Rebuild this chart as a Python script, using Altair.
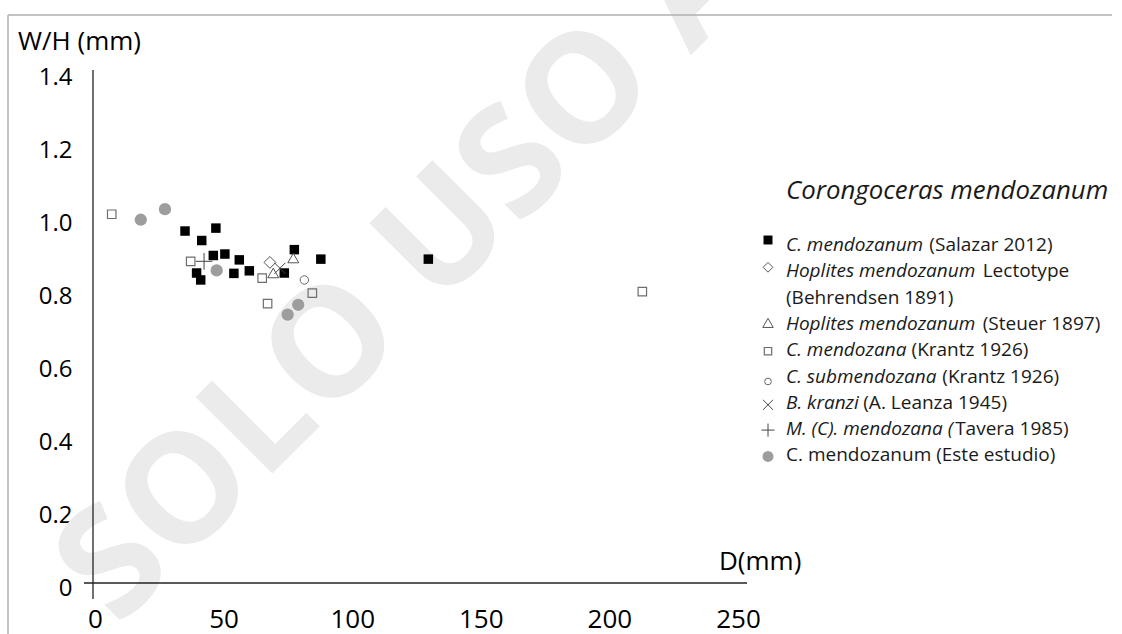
import altair as alt
import pandas as pd

# ---------------- data ----------------
salazar_D  = [35.0, 47.0, 41.5, 46.0, 50.5, 56.1, 60.0, 54.0, 39.5, 41.1, 77.5, 73.6, 87.8, 129.6]
salazar_WH = [0.978, 0.986, 0.952, 0.911, 0.915, 0.899, 0.869, 0.862, 0.863, 0.844, 0.927, 0.863, 0.901, 0.901]
krantz_D   = [6.5, 37.2, 65.0, 67.1, 84.5, 212.8]
krantz_WH  = [1.024, 0.895, 0.849, 0.779, 0.808, 0.812]
este_D     = [17.8, 27.2, 47.3, 79.0, 74.9]
este_WH    = [1.009, 1.038, 0.870, 0.776, 0.749]
lecto_D    = [68.0]
lecto_WH   = [0.892]
steuer_D   = [77.1, 69.3]
steuer_WH  = [0.904, 0.863]
leanza_D   = [71.9]
leanza_WH  = [0.876]
tavera_D   = [42.4]
tavera_WH  = [0.895]
submend_D  = [81.4]
submend_WH = [0.844]

x_ticks = [0, 50, 100, 150, 200, 250]
y_ticks = [0, 0.2, 0.4, 0.6, 0.8, 1.0, 1.2, 1.4]

y_title = "W/H (mm)"
x_title = "D(mm)"
legend_title = "Corongoceras mendozanum"
legend_italic = ["C. mendozanum", "Hoplites mendozanum", "", "Hoplites mendozanum",
                 "C. mendozana", "C. submendozana", "B. kranzi", "M. (C). mendozana (", ""]
legend_regular = ["(Salazar 2012)", "Lectotype", "(Behrendsen 1891)", "(Steuer 1897)",
                  "(Krantz 1926)", "(Krantz 1926)", "(A. Leanza 1945)", "Tavera 1985)",
                  "C. mendozanum (Este estudio)"]
watermark = "SOLO USO ACADÉMICO"

# ---------------- layout ----------------
W, H = 1122, 634
FONT = "Open Sans"
xscale = alt.Scale(domain=[0, 250], range=[95, 738], nice=False, zero=False)
yscale = alt.Scale(domain=[0, 1.4], range=[588, 77], nice=False, zero=False)
ROW0, ROW_H = 245, 26.3
leg_y = alt.Scale(domain=[0, 8], range=[ROW0, ROW0 + 8 * ROW_H], nice=False, zero=False)
pix_x = alt.Scale(domain=[0, W], range=[0, W], nice=False, zero=False)
LEG_TX, LEG_MX, LEG_FS = 786, 768, 19

# Open Sans advance widths (units per 2048 em), used to place the upright part after the italic part
ADV = {' ': 532, '(': 608, ')': 608, '.': 545, 'A': 1296, 'B': 1327, 'C': 1292, 'D': 1493,
       'E': 1118, 'H': 1511, 'K': 1221, 'L': 1124, 'M': 1849, 'S': 1147, 'T': 1155,
       'a': 1139, 'b': 1255, 'c': 975, 'd': 1255, 'e': 1149, 'g': 1122, 'h': 1257, 'i': 518,
       'k': 1075, 'l': 518, 'm': 1905, 'n': 1257, 'o': 1237, 'p': 1255, 'r': 836, 's': 977,
       't': 723, 'u': 1257, 'v': 1026, 'y': 1026, 'z': 977}


def text_w(s, size, italic=False):
    w = sum(ADV.get(c, 1171) for c in s) / 2048 * size
    return w * (0.95 if italic else 1.0)


def one(**kw):
    return pd.DataFrame({k: [v] for k, v in kw.items()} or {"a": [0]})


def label(text, x, y, size, italic=False, align="left", baseline="alphabetic",
          angle=0, color="#000000", weight="normal"):
    mk = dict(align=align, baseline=baseline, font=FONT, fontSize=size, color=color,
              fontWeight=weight, fontStyle="italic" if italic else "normal")
    if angle:
        mk["angle"] = angle
    return alt.Chart(one(t=text)).mark_text(**mk).encode(
        x=alt.value(x), y=alt.value(y), text="t:N")


def hrule(x1, x2, y, color, sw):
    return alt.Chart(one(a=0)).mark_rule(color=color, strokeWidth=sw).encode(
        x=alt.value(x1), x2=alt.value(x2), y=alt.value(y))


def vrule(x, y1, y2, color, sw):
    return alt.Chart(one(a=0)).mark_rule(color=color, strokeWidth=sw).encode(
        x=alt.value(x), y=alt.value(y1), y2=alt.value(y2))


PLUS = "M-1,0L1,0M0,-1L0,1"
CROSS = "M-1,-1L1,1M-1,1L1,-1"

# name, D, WH, shape, size, filled, color, strokeWidth, legend row, legend y offset(px), legend size
series = [
    ("krantz", krantz_D, krantz_WH, "square", 72, False, "#6e6e6e", 1.2, 4, 1, 55),
    ("salazar", salazar_D, salazar_WH, "square", 90, True, "#000000", 0, 0, -5, 80),
    ("este", este_D, este_WH, "circle", 150, True, "#9d9d9d", 0, 8, 1, 120),
    ("lecto", lecto_D, lecto_WH, "diamond", 140, False, "#555555", 1.0, 1, -4, 95),
    ("steuer", steuer_D, steuer_WH, "triangle-up", 120, False, "#555555", 1.0, 3, -1, 110),
    ("leanza", leanza_D, leanza_WH, CROSS, 120, False, "#444444", 1.0, 6, 2, 100),
    ("tavera", tavera_D, tavera_WH, PLUS, 280, False, "#444444", 1.0, 7, 1, 170),
    ("submend", submend_D, submend_WH, "circle", 70, False, "#666666", 1.0, 5, 5, 45),
]

x_axis = alt.Axis(values=x_ticks, orient="bottom", offset=-(H - 606), domain=False,
                  ticks=False, grid=False, labelFont=FONT, labelFontSize=26,
                  labelColor="#000000", labelPadding=0, labelFlush=False,
                  labelOverlap=False, title=None)
y_axis = alt.Axis(values=y_ticks, orient="left", offset=-93, domain=False, ticks=False,
                  grid=False, labelFont=FONT, labelFontSize=24, labelColor="#000000",
                  labelPadding=21, labelFlush=False, labelOverlap=False, title=None,
                  labelExpr="datum.value == 0 ? '0' : format(datum.value, '.1f')")

layers = []
# watermark
layers.append(label(watermark, 118, 628, 152, angle=315, color="#ebebeb", weight="bold"))
# frame
layers.append(hrule(8, 1112, 15, "#b0b0b0", 1.5))
layers.append(vrule(8, 15, H, "#b0b0b0", 1.5))
# axis lines
layers.append(hrule(84, 747, 583, "#222222", 1.3))
layers.append(vrule(93, 70, 599, "#222222", 1.3))

first = True
for name, D, WH, shape, size, filled, color, sw, row, off, lsize in series:
    df = pd.DataFrame({"D": D, "WH": WH})
    mk = dict(shape=shape, size=size, filled=filled, color=color, opacity=1)
    if not filled:
        mk["strokeWidth"] = sw
    layers.append(alt.Chart(df).mark_point(**mk).encode(
        x=alt.X("D:Q", scale=xscale, axis=x_axis if first else None),
        y=alt.Y("WH:Q", scale=yscale, axis=y_axis if first else None)))
    first = False
    lmk = dict(mk)
    lmk["size"] = lsize
    layers.append(alt.Chart(pd.DataFrame({"r": [row + off / ROW_H]})).mark_point(**lmk).encode(
        x=alt.value(LEG_MX), y=alt.Y("r:Q", scale=leg_y, axis=None)))

# legend texts
it_rows, rg_rows = [], []
for i, (it, rg) in enumerate(zip(legend_italic, legend_regular)):
    x = LEG_TX
    if it:
        it_rows.append({"row": i, "tx": x, "txt": it})
        x += text_w(it, LEG_FS, italic=True)
        if not it.endswith("("):
            x += text_w(" ", LEG_FS)
        else:
            x += 2
    rg_rows.append({"row": i, "tx": x, "txt": rg})

for rows, style in ((it_rows, "italic"), (rg_rows, "normal")):
    layers.append(alt.Chart(pd.DataFrame(rows)).mark_text(
        align="left", baseline="middle", font=FONT, fontSize=LEG_FS, fontStyle=style,
        color="#1a1a1a").encode(
        x=alt.X("tx:Q", scale=pix_x, axis=None),
        y=alt.Y("row:Q", scale=leg_y, axis=None),
        text="txt:N"))

layers.append(label(legend_title, LEG_TX, 199, 25.8, italic=True, color="#1a1a1a"))
layers.append(label(y_title, 18, 50, 26))
layers.append(label(x_title, 719, 570, 26))

chart = alt.layer(*layers).resolve_scale(x="independent", y="independent").properties(
    width=W, height=H, padding=0, background="white",
    autosize=alt.AutoSizeParams(type="none"),
).configure_view(stroke=None)

chart.save("out.html", embed_options={"renderer": "svg", "actions": False})
